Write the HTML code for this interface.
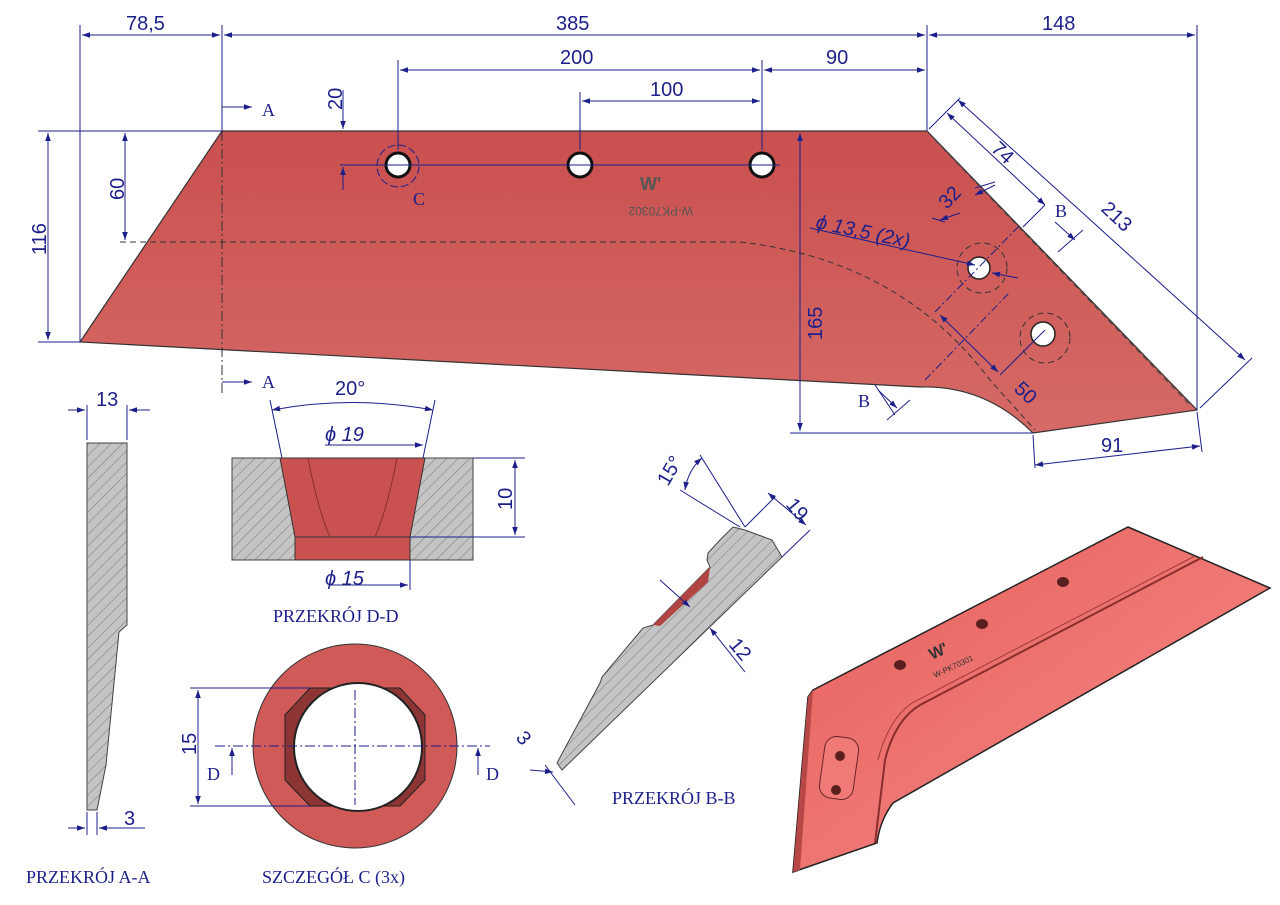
<!DOCTYPE html>
<html><head><meta charset="utf-8"><style>
html,body{margin:0;padding:0;background:#fff;}
svg{display:block;font-family:"Liberation Sans",sans-serif;}
.d{stroke:#1c1f8a;stroke-width:1;fill:none;}
.t{fill:#1c1f8a;font-size:20px;}
.s{fill:#1c1f8a;font-family:"Liberation Serif",serif;font-size:18px;}
</style></head><body>
<svg width="1280" height="905" viewBox="0 0 1280 905" xmlns="http://www.w3.org/2000/svg">
<defs>
<marker id="a" viewBox="0 0 10 10" refX="10" refY="5" markerWidth="10" markerHeight="8" orient="auto-start-reverse"><path d="M0,1.5 L10,5 L0,8.5z" fill="#1c1f8a"/></marker>
<linearGradient id="g" x1="0" y1="0" x2="0" y2="1"><stop offset="0" stop-color="#c9504f"/><stop offset="1" stop-color="#d66a66"/></linearGradient>
<linearGradient id="g2" x1="0" y1="0" x2="1" y2="1"><stop offset="0" stop-color="#e55f5c"/><stop offset="0.6" stop-color="#f07a76"/><stop offset="1" stop-color="#f49490"/></linearGradient>
<pattern id="h" width="8" height="8" patternUnits="userSpaceOnUse" patternTransform="rotate(45)"><rect width="8" height="8" fill="#c4c4c4"/><line x1="0" y1="0" x2="0" y2="8" stroke="#777" stroke-width="1"/></pattern>
</defs>

<!-- main plate -->
<path d="M222,131 L927,131 L1197,410 L1033,433 Q985,385 920,387 L80,342 Z" fill="url(#g)" stroke="#333" stroke-width="1.2"/>
<path d="M120,242 L740,242 Q900,260 990,380 L1035,430" stroke="#333" stroke-dasharray="6,4" fill="none"/>
<path d="M935,140 L1190,405" stroke="#444" stroke-dasharray="6,4" fill="none"/>
<line x1="222" y1="95" x2="222" y2="395" stroke="#333" stroke-dasharray="10,3,2,3"/>
<!-- holes -->
<g fill="#fff" stroke="#111" stroke-width="3">
<circle cx="398" cy="165" r="12"/><circle cx="580" cy="165" r="12"/><circle cx="762" cy="165" r="12"/></g>
<g fill="#fff" stroke="#222" stroke-width="1.5">
<circle cx="979" cy="268" r="11"/><circle cx="1043" cy="334" r="12"/></g>
<circle cx="398" cy="166" r="21" fill="none" stroke="#1c1f8a" stroke-dasharray="8,3"/>
<circle cx="982" cy="268" r="25" fill="none" stroke="#333" stroke-dasharray="6,4"/>
<circle cx="1045" cy="338" r="25" fill="none" stroke="#333" stroke-dasharray="6,4"/>
<line x1="340" y1="165" x2="780" y2="165" class="d"/>
<text x="617" y="215" font-size="12" fill="#555" transform="rotate(180 655 211)">W-PK70302</text>
<text x="640" y="190" font-size="18" fill="#555" font-weight="bold">W'</text>
<text x="413" y="205" class="s">C</text>

<!-- top dimensions -->
<g class="d">
<line x1="80" y1="25" x2="80" y2="342"/><line x1="222" y1="25" x2="222" y2="131"/><line x1="927" y1="25" x2="927" y2="131"/><line x1="1197" y1="25" x2="1197" y2="410"/>
<line x1="82" y1="35" x2="220" y2="35" marker-start="url(#a)" marker-end="url(#a)"/>
<line x1="224" y1="35" x2="925" y2="35" marker-start="url(#a)" marker-end="url(#a)"/>
<line x1="929" y1="35" x2="1195" y2="35" marker-start="url(#a)" marker-end="url(#a)"/>
<line x1="398" y1="60" x2="398" y2="150"/><line x1="762" y1="60" x2="762" y2="150"/><line x1="580" y1="92" x2="580" y2="150"/>
<line x1="400" y1="70" x2="760" y2="70" marker-start="url(#a)" marker-end="url(#a)"/>
<line x1="764" y1="70" x2="925" y2="70" marker-start="url(#a)" marker-end="url(#a)"/>
<line x1="582" y1="101" x2="760" y2="101" marker-start="url(#a)" marker-end="url(#a)"/>
<line x1="38" y1="131" x2="222" y2="131"/><line x1="38" y1="342" x2="80" y2="342"/>
<line x1="48" y1="133" x2="48" y2="340" marker-start="url(#a)" marker-end="url(#a)"/>
<line x1="125" y1="133" x2="125" y2="240" marker-start="url(#a)" marker-end="url(#a)"/>
<line x1="343" y1="90" x2="343" y2="129" marker-end="url(#a)"/><line x1="343" y1="190" x2="343" y2="167" marker-end="url(#a)"/>
<line x1="800" y1="133" x2="800" y2="431" marker-start="url(#a)" marker-end="url(#a)"/>
<line x1="790" y1="433" x2="1033" y2="433"/>
<line x1="1033" y1="435" x2="1035" y2="468"/><line x1="1197" y1="412" x2="1202" y2="452"/>
<line x1="1035" y1="465" x2="1200" y2="446" marker-start="url(#a)" marker-end="url(#a)"/>
<line x1="929" y1="129" x2="960" y2="98"/><line x1="1200" y1="408" x2="1252" y2="358"/>
<line x1="958" y1="100" x2="1245" y2="360" marker-start="url(#a)" marker-end="url(#a)"/>
<line x1="947" y1="113" x2="1045" y2="205" marker-start="url(#a)" marker-end="url(#a)"/>
<line x1="1023" y1="227" x2="1045" y2="205"/>
<line x1="932" y1="218" x2="945" y2="222" /><line x1="975" y1="188" x2="995" y2="182"/>
<line x1="940" y1="220" x2="960" y2="213" marker-start="url(#a)"/><line x1="995" y1="185" x2="975" y2="195" marker-end="url(#a)"/>
<line x1="810" y1="228" x2="975" y2="265" marker-end="url(#a)"/><line x1="1018" y1="278" x2="992" y2="273" marker-end="url(#a)"/>
<line x1="935" y1="312" x2="1020" y2="225" stroke-dasharray="8,3,2,3"/>
<line x1="1000" y1="375" x2="1045" y2="330"/><line x1="925" y1="380" x2="1010" y2="292" stroke-dasharray="8,3,2,3"/>
<line x1="940" y1="315" x2="998" y2="372" marker-start="url(#a)" marker-end="url(#a)"/>
<line x1="1055" y1="222" x2="1075" y2="240" marker-end="url(#a)"/><line x1="1058" y1="252" x2="1083" y2="230"/>
<line x1="875" y1="385" x2="895" y2="415"/><line x1="878" y1="390" x2="897" y2="408" marker-end="url(#a)"/><line x1="887" y1="420" x2="910" y2="400"/>
<line x1="222" y1="107" x2="252" y2="107" marker-end="url(#a)"/><line x1="222" y1="382" x2="252" y2="382" marker-end="url(#a)"/>
</g>
<g class="t">
<text x="126" y="30">78,5</text><text x="556" y="30">385</text><text x="1042" y="30">148</text>
<text x="560" y="64">200</text><text x="826" y="64">90</text><text x="650" y="96">100</text>
<text transform="translate(342,110) rotate(-90)">20</text>
<text transform="translate(124,200) rotate(-90)">60</text>
<text transform="translate(46,255) rotate(-90)">116</text>
<text transform="translate(822,340) rotate(-90)">165</text>
<text x="1101" y="452">91</text>
<text transform="translate(1100,210) rotate(43)">213</text>
<text transform="translate(990,150) rotate(43)">74</text>
<text transform="translate(947,210) rotate(-47)">32</text>
<text transform="translate(1013,390) rotate(43)">50</text>
<text x="815" y="228" transform="rotate(12 815 228)" font-style="italic">ϕ 13,5  (2x)</text>
</g>
<g class="s"><text x="262" y="116">A</text><text x="262" y="388">A</text><text x="1055" y="217">B</text><text x="858" y="407">B</text></g>

<!-- section A-A -->
<path d="M87,443 L127,443 L127,625 L119,632 L106,765 L97,810 L87,810 Z" fill="url(#h)" stroke="#444"/>
<g class="d"><line x1="87" y1="405" x2="87" y2="440"/><line x1="127" y1="405" x2="127" y2="440"/>
<line x1="68" y1="410" x2="85" y2="410" marker-end="url(#a)"/><line x1="150" y1="410" x2="129" y2="410" marker-end="url(#a)"/>
<line x1="87" y1="812" x2="87" y2="835"/><line x1="97" y1="812" x2="97" y2="835"/>
<line x1="68" y1="828" x2="85" y2="828" marker-end="url(#a)"/><line x1="145" y1="828" x2="99" y2="828" marker-end="url(#a)"/></g>
<text x="96" y="406" class="t">13</text><text x="124" y="825" class="t">3</text>
<text x="26" y="883" class="s">PRZEKRÓJ A-A</text>

<!-- section D-D -->
<rect x="232" y="458" width="241" height="102" fill="url(#h)" stroke="#444"/>
<path d="M280,458 L425,458 L410,537 L410,560 L295,560 L295,537 Z" fill="#c95250" stroke="#333"/>
<line x1="295" y1="537" x2="410" y2="537" stroke="#333"/>
<path d="M308,458 Q318,510 330,537 M397,458 Q387,510 375,537" stroke="#8b2f2e" fill="none"/>
<g class="d">
<line x1="270" y1="400" x2="282" y2="458"/><line x1="435" y1="400" x2="423" y2="458"/>
<path d="M272,410 Q352,395 433,410" marker-start="url(#a)" marker-end="url(#a)"/>
<line x1="325" y1="445" x2="423" y2="445" marker-end="url(#a)"/>
<line x1="473" y1="458" x2="525" y2="458"/><line x1="410" y1="537" x2="525" y2="537"/>
<line x1="515" y1="460" x2="515" y2="535" marker-start="url(#a)" marker-end="url(#a)"/>
<line x1="410" y1="560" x2="410" y2="590"/><line x1="330" y1="585" x2="408" y2="585" marker-end="url(#a)"/></g>
<text x="335" y="395" class="t">20°</text><text x="325" y="441" class="t" font-style="italic">ϕ 19</text>
<text transform="translate(512,510) rotate(-90)" class="t">10</text>
<text x="325" y="585" class="t" font-style="italic">ϕ 15</text>
<text x="273" y="622" class="s">PRZEKRÓJ D-D</text>

<!-- detail C -->
<circle cx="355" cy="746" r="102" fill="#cf5a57" stroke="#333"/>
<path d="M310,688 L400,688 L425,715 L425,780 L400,806 L310,806 L285,780 L285,715 Z" fill="#8c3534" stroke="#222"/>
<circle cx="358" cy="747" r="64" fill="#fff" stroke="#222" stroke-width="2"/>
<g class="d">
<line x1="190" y1="688" x2="310" y2="688"/><line x1="190" y1="806" x2="310" y2="806"/>
<line x1="198" y1="690" x2="198" y2="804" marker-start="url(#a)" marker-end="url(#a)"/>
<line x1="215" y1="746" x2="490" y2="746" stroke-dasharray="10,3,2,3"/>
<line x1="355" y1="690" x2="355" y2="805" stroke-dasharray="10,3,2,3"/>
<line x1="232" y1="775" x2="232" y2="748" marker-end="url(#a)"/><line x1="478" y1="775" x2="478" y2="748" marker-end="url(#a)"/></g>
<text transform="translate(196,755) rotate(-90)" class="t">15</text>
<text x="207" y="780" class="s">D</text><text x="486" y="780" class="s">D</text>
<text x="262" y="883" class="s">SZCZEGÓŁ C (3x)</text>

<!-- section B-B -->
<path d="M733,527 L745,530 L772,540 L782,557 L562,770 L557,763 L600,683 L602,677 L643,628 L653,625 L710,567 L707,560 L708,553 L720,540 Z" fill="url(#h)" stroke="#444"/>
<path d="M710,567 L653,625 L660,626 L708,582 Z" fill="#b04544"/>
<g class="d">
<line x1="740" y1="527" x2="680" y2="490"/><line x1="745" y1="527" x2="700" y2="455"/>
<path d="M685,490 Q688,470 702,458" marker-start="url(#a)" marker-end="url(#a)"/>
<line x1="782" y1="557" x2="810" y2="530"/><line x1="745" y1="527" x2="775" y2="497"/>
<line x1="768" y1="493" x2="806" y2="525" marker-start="url(#a)" marker-end="url(#a)"/>
<line x1="660" y1="580" x2="690" y2="607" marker-end="url(#a)"/><line x1="745" y1="672" x2="710" y2="628" marker-end="url(#a)"/>
<line x1="545" y1="765" x2="575" y2="805"/><line x1="530" y1="770" x2="553" y2="772" marker-end="url(#a)"/>
</g>
<text transform="translate(668,487) rotate(-60)" class="t">15°</text>
<text transform="translate(785,505) rotate(50)" class="t">19</text>
<text transform="translate(728,645) rotate(50)" class="t">12</text>
<text transform="translate(515,738) rotate(50)" class="t">3</text>
<text x="612" y="804" class="s">PRZEKRÓJ B-B</text>

<!-- 3D view -->
<path d="M813,690 L1128,527 L1270,588 L893,803 Q880,820 877,843 L793,872 L808,697 Z" fill="url(#g2)" stroke="#222" stroke-width="1.5"/>
<path d="M808,697 L813,690 L800,870 L793,872 Z" fill="#b84846"/>
<path d="M1203,557 L920,705 Q895,720 885,760 Q880,800 875,843" stroke="#8a2e2c" stroke-width="2" fill="none"/>
<path d="M1195,556 L912,703 Q888,720 878,760" stroke="#a03a38" fill="none"/>
<g fill="#5a1e1e"><ellipse cx="900" cy="665" rx="6" ry="5"/><ellipse cx="982" cy="624" rx="6" ry="5"/><ellipse cx="1063" cy="582" rx="6" ry="5"/></g>
<rect x="822" y="737" width="34" height="62" rx="12" transform="rotate(8 839 768)" fill="#f07a76" stroke="#6a2626"/>
<g fill="#5a1e1e"><circle cx="840" cy="756" r="5"/><circle cx="836" cy="790" r="5"/></g>
<text x="932" y="660" font-size="16" font-weight="bold" fill="#333" transform="rotate(-25 932 660)">W'</text>
<text x="935" y="678" font-size="8" fill="#333" transform="rotate(-25 935 678)">W-PK70301</text>
</svg>
</body></html>
